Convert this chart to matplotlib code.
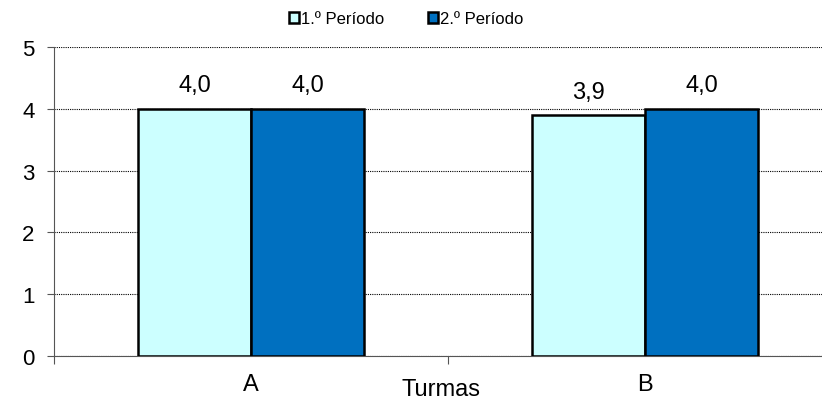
import matplotlib
matplotlib.use("Agg")
import matplotlib.pyplot as plt
import numpy as np

plt.rcParams["font.family"] = ["Liberation Sans", "DejaVu Sans"]

TURMAS = ["A", "B"]
PERIODOS = ["1.º Período", "2.º Período"]
P1 = [4.0, 3.9]
P2 = [4.0, 4.0]
COLORS = ["#CCFFFF", "#0070C0"]

fig = plt.figure(figsize=(8.22, 4.02), dpi=100)
ax = fig.add_axes([54 / 822, 1 - 357 / 402, 788 / 822, 309 / 402])

x = np.arange(len(TURMAS))
w = 0.287
for off, vals, col, lab in [(-w / 2, P1, COLORS[0], PERIODOS[0]),
                            (w / 2, P2, COLORS[1], PERIODOS[1])]:
    bars = ax.bar(x + off, vals, w, color=col, edgecolor="black", lw=1.8,
                  label=lab, zorder=3)
    for b, v in zip(bars, vals):
        ax.text(b.get_x() + b.get_width() / 2, v + 0.2, f"{v:.1f}".replace(".", ","),
                ha="center", va="bottom", fontsize=17)

ax.set_xlim(-0.5, 1.5)
ax.set_ylim(0, 5)
ax.set_yticks(range(6))
ax.yaxis.grid(True, ls=(0, (1, 1)), color="black", lw=0.8)
ax.set_axisbelow(True)
ax.set_xticks([-0.5, 0.5, 1.5])
ax.set_xticklabels([])
ax.set_xticks(x, minor=True)
ax.set_xticklabels(TURMAS, minor=True, fontsize=17)
ax.tick_params(axis="x", which="minor", length=0, pad=12)
ax.tick_params(axis="x", which="major", length=6, color="#555555")
ax.tick_params(axis="y", length=5, labelsize=16, color="#555555", pad=9)
for s in ["top", "right"]:
    ax.spines[s].set_visible(False)
for s in ["left", "bottom"]:
    ax.spines[s].set_color("#555555")
ax.text(0.491, -0.072, "Turmas", transform=ax.transAxes, ha="center", va="top",
        fontsize=17)

ax.legend(loc="center", bbox_to_anchor=(406 / 822, 1 - 20 / 402),
          bbox_transform=fig.transFigure, ncol=2, frameon=False, fontsize=12,
          handlelength=0.6, handleheight=0.6, handletextpad=0.15, columnspacing=2.6)

fig.savefig("out.png", dpi=100)
